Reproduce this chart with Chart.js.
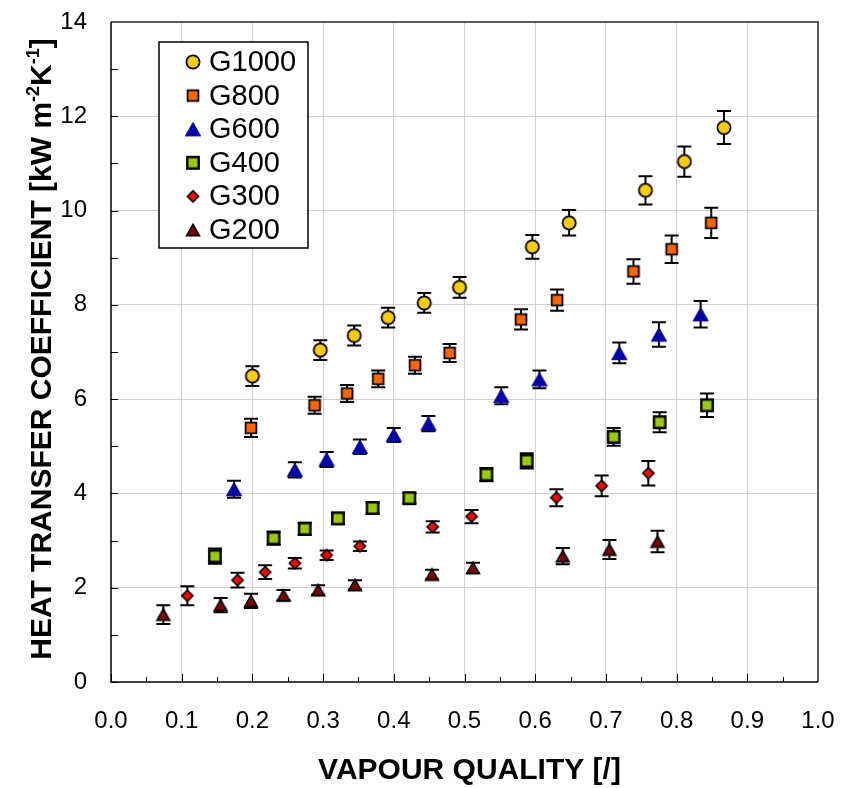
<!DOCTYPE html>
<html><head><meta charset="utf-8">
<script src="https://cdn.jsdelivr.net/npm/chart.js@4/dist/chart.umd.min.js"></script>
<style>html,body{margin:0;padding:0;background:#fff;}canvas{display:block;}</style>
</head><body>
<canvas id="c" width="842" height="788"></canvas>
<script>
// ---- data ----
const seriesNames = ['G1000', 'G800', 'G600', 'G400', 'G300', 'G200'];

const xG1000 = [0.200, 0.296, 0.344, 0.392, 0.443, 0.493, 0.596, 0.648, 0.756, 0.811, 0.867];
const yG1000 = [6.49, 7.04, 7.35, 7.73, 8.04, 8.37, 9.23, 9.74, 10.43, 11.04, 11.76];
const eG1000 = [0.21, 0.21, 0.21, 0.21, 0.21, 0.22, 0.25, 0.27, 0.30, 0.32, 0.35];

const xG800 = [0.198, 0.288, 0.334, 0.378, 0.430, 0.479, 0.580, 0.631, 0.739, 0.793, 0.849];
const yG800 = [5.39, 5.87, 6.12, 6.43, 6.72, 6.98, 7.69, 8.10, 8.71, 9.18, 9.74];
const eG800 = [0.195, 0.18, 0.18, 0.18, 0.18, 0.19, 0.215, 0.225, 0.26, 0.29, 0.32];

const xG600 = [0.174, 0.260, 0.305, 0.352, 0.400, 0.449, 0.552, 0.606, 0.719, 0.775, 0.834];
const yG600 = [4.09, 4.50, 4.72, 4.99, 5.24, 5.48, 6.07, 6.42, 6.98, 7.37, 7.80];
const eG600 = [0.18, 0.16, 0.16, 0.155, 0.15, 0.16, 0.18, 0.19, 0.22, 0.26, 0.28];

const xG400 = [0.147, 0.230, 0.274, 0.321, 0.370, 0.422, 0.531, 0.588, 0.711, 0.776, 0.843];
const yG400 = [2.67, 3.05, 3.25, 3.47, 3.69, 3.90, 4.40, 4.69, 5.20, 5.51, 5.87];
const eG400 = [0.16, 0.14, 0.13, 0.12, 0.12, 0.11, 0.14, 0.16, 0.19, 0.21, 0.25];

const xG300 = [0.108, 0.179, 0.218, 0.260, 0.305, 0.352, 0.455, 0.510, 0.630, 0.694, 0.760];
const yG300 = [1.83, 2.16, 2.33, 2.52, 2.69, 2.88, 3.29, 3.51, 3.91, 4.16, 4.43];
const eG300 = [0.20, 0.155, 0.145, 0.11, 0.10, 0.10, 0.12, 0.14, 0.18, 0.22, 0.26];

const xG200 = [0.074, 0.155, 0.198, 0.244, 0.293, 0.345, 0.454, 0.512, 0.639, 0.705, 0.773];
const yG200 = [1.43, 1.63, 1.72, 1.84, 1.95, 2.06, 2.28, 2.42, 2.67, 2.81, 2.98];
const eG200 = [0.20, 0.15, 0.15, 0.11, 0.10, 0.10, 0.10, 0.11, 0.17, 0.20, 0.23];

const xTickValues = [0.0, 0.1, 0.2, 0.3, 0.4, 0.5, 0.6, 0.7, 0.8, 0.9, 1.0];
const yTickValues = [0, 2, 4, 6, 8, 10, 12, 14];
const xTitle = 'VAPOUR QUALITY [/]';
const yTitleParts = [['HEAT TRANSFER COEFFICIENT [kW m', false], ['-2', true], ['K', false], ['-1', true], [']', false]];

// ---- styling ----
const FONT = '"Liberation Sans", Arial, sans-serif';

function makeMarker(kind, fill, stroke, lw, s) {
  const c = document.createElement('canvas');
  c.width = 24; c.height = 24;
  const g = c.getContext('2d');
  const m = 12;
  g.fillStyle = fill; g.strokeStyle = stroke; g.lineWidth = lw; g.lineJoin = 'miter';
  g.beginPath();
  if (kind === 'circle') { g.arc(m, m, s, 0, Math.PI * 2); }
  else if (kind === 'square') { g.rect(m - s / 2, m - s / 2, s, s); }
  else if (kind === 'diamond') { g.moveTo(m, m - s); g.lineTo(m + s, m); g.lineTo(m, m + s); g.lineTo(m - s, m); g.closePath(); }
  else if (kind === 'triangle') { const w = s, h = s * 0.88; g.moveTo(m, m - h / 2); g.lineTo(m + w / 2, m + h / 2); g.lineTo(m - w / 2, m + h / 2); g.closePath(); }
  g.fill(); g.stroke();
  return c;
}

const markers = [
  makeMarker('circle', '#FFCC00', '#000000', 1.8, 6.6),
  makeMarker('square', '#FF6600', '#000000', 1.8, 10.8),
  makeMarker('triangle', '#0000A8', '#00008C', 1.0, 15.2),
  makeMarker('square', '#99CC00', '#000000', 2.4, 11.4),
  makeMarker('diamond', '#FF0000', '#000000', 1.6, 5.6),
  makeMarker('triangle', '#800000', '#000000', 1.6, 12.8)
];

const xs = [xG1000, xG800, xG600, xG400, xG300, xG200];
const ys = [yG1000, yG800, yG600, yG400, yG300, yG200];
const es = [eG1000, eG800, eG600, eG400, eG300, eG200];

const datasets = seriesNames.map((name, i) => ({
  label: name,
  data: xs[i].map((x, j) => ({ x: x, y: ys[i][j], e: es[i][j] })),
  pointStyle: markers[i],
  pointRadius: 8,
  showLine: false
}));

const framePlugin = {
  id: 'frame',
  beforeDatasetsDraw(chart) {
    const { ctx, chartArea: a, scales: { x, y } } = chart;
    ctx.save();
    ctx.strokeStyle = '#000'; ctx.lineWidth = 1;
    ctx.beginPath();
    for (let k = 0; k <= 20; k++) {
      const px = Math.round(x.getPixelForValue(k * 0.05)) + 0.5;
      const len = (k % 2 === 0) ? 8 : 5;
      ctx.moveTo(px, a.bottom); ctx.lineTo(px, a.bottom - len);
    }
    for (let k = 0; k <= 14; k++) {
      const py = Math.round(y.getPixelForValue(k)) + 0.5;
      ctx.moveTo(a.left, py); ctx.lineTo(a.left + 7, py);
    }
    ctx.stroke();
    ctx.strokeStyle = '#5a5a5a'; ctx.lineWidth = 2;
    ctx.beginPath(); ctx.moveTo(a.left, a.top); ctx.lineTo(a.right, a.top); ctx.lineTo(a.right, a.bottom); ctx.stroke();
    ctx.strokeStyle = '#000'; ctx.lineWidth = 1.5;
    ctx.beginPath(); ctx.moveTo(a.left, a.top); ctx.lineTo(a.left, a.bottom); ctx.lineTo(a.right, a.bottom); ctx.stroke();
    ctx.restore();
  }
};

const errorBarPlugin = {
  id: 'errorBars',
  beforeDatasetsDraw(chart) {
    const ctx = chart.ctx, sy = chart.scales.y;
    ctx.save();
    ctx.strokeStyle = '#000'; ctx.lineWidth = 2;
    chart.data.datasets.forEach((ds, i) => {
      const meta = chart.getDatasetMeta(i);
      meta.data.forEach((pt, j) => {
        const d = ds.data[j];
        const top = sy.getPixelForValue(d.y + d.e), bot = sy.getPixelForValue(d.y - d.e);
        ctx.beginPath();
        ctx.moveTo(pt.x, top); ctx.lineTo(pt.x, bot);
        ctx.moveTo(pt.x - 7, top); ctx.lineTo(pt.x + 7, top);
        ctx.moveTo(pt.x - 7, bot); ctx.lineTo(pt.x + 7, bot);
        ctx.stroke();
      });
    });
    ctx.restore();
  }
};

const overlayPlugin = {
  id: 'overlay',
  afterDraw(chart) {
    const ctx = chart.ctx, a = chart.chartArea;
    ctx.save();
    // legend box
    const bx = 159, by = 42, bw = 149, bh = 206;
    ctx.fillStyle = '#fff'; ctx.fillRect(bx, by, bw, bh);
    ctx.strokeStyle = '#000'; ctx.lineWidth = 1.5; ctx.strokeRect(bx, by, bw, bh);
    ctx.font = '29px ' + FONT; ctx.fillStyle = '#000'; ctx.textBaseline = 'middle'; ctx.textAlign = 'left';
    chart.data.datasets.forEach((ds, i) => {
      const cy = 62 + i * 33.6;
      const m = ds.pointStyle;
      ctx.drawImage(m, 193 - m.width / 2, cy - m.height / 2);
      ctx.fillText(ds.label, 209, cy + 1);
    });
    // x title
    ctx.font = 'bold 30px ' + FONT; ctx.textAlign = 'center'; ctx.textBaseline = 'middle';
    ctx.fillText(xTitle, (a.left + a.right) / 2 + 5, 771);
    // y title with superscripts
    ctx.translate(40, (a.top + a.bottom) / 2 - 3);
    ctx.rotate(-Math.PI / 2);
    const big = 'bold 30px ' + FONT, small = 'bold 18px ' + FONT;
    let total = 0;
    yTitleParts.forEach(p => { ctx.font = p[1] ? small : big; total += ctx.measureText(p[0]).width; });
    const target = 628;
    const sx = Math.min(1, target / total);
    ctx.scale(sx, 1);
    let cx = -total / 2;
    ctx.textAlign = 'left'; ctx.textBaseline = 'alphabetic';
    yTitleParts.forEach(p => {
      ctx.font = p[1] ? small : big;
      ctx.fillText(p[0], cx, p[1] ? -1 : 11);
      cx += ctx.measureText(p[0]).width;
    });
    ctx.restore();
  }
};

new Chart(document.getElementById('c'), {
  type: 'scatter',
  data: { datasets: datasets },
  options: {
    responsive: false,
    animation: false,
    devicePixelRatio: 1,
    layout: { autoPadding: false, padding: { left: 0, top: 22, right: 24, bottom: 0 } },
    plugins: { legend: { display: false }, tooltip: { enabled: false }, title: { display: false } },
    scales: {
      x: {
        type: 'linear', min: 0, max: 1,
        afterBuildTicks: s => { s.ticks = xTickValues.map(v => ({ value: v })); },
        afterFit: s => { s.height = 106; s.paddingLeft = 0; s.paddingRight = 0; },
        ticks: { callback: v => Number(v).toFixed(1), font: { family: FONT, size: 24 }, color: '#000', padding: 25, maxRotation: 0, autoSkip: false },
        grid: { color: c => (c.tick && (c.tick.value === 0 || c.tick.value === 1)) ? 'rgba(0,0,0,0)' : '#d0d0d0', lineWidth: 1, drawTicks: false },
        border: { display: false }
      },
      y: {
        type: 'linear', min: 0, max: 14,
        afterBuildTicks: s => { s.ticks = yTickValues.map(v => ({ value: v })); },
        afterFit: s => { s.width = 111; s.paddingTop = 0; s.paddingBottom = 0; },
        ticks: { callback: v => String(v), font: { family: FONT, size: 24 }, color: '#000', padding: 24, autoSkip: false },
        grid: { color: c => (c.tick && (c.tick.value === 0 || c.tick.value === 14)) ? 'rgba(0,0,0,0)' : '#d0d0d0', lineWidth: 1, drawTicks: false },
        border: { display: false }
      }
    }
  },
  plugins: [framePlugin, errorBarPlugin, overlayPlugin]
});
</script>
</body></html>
